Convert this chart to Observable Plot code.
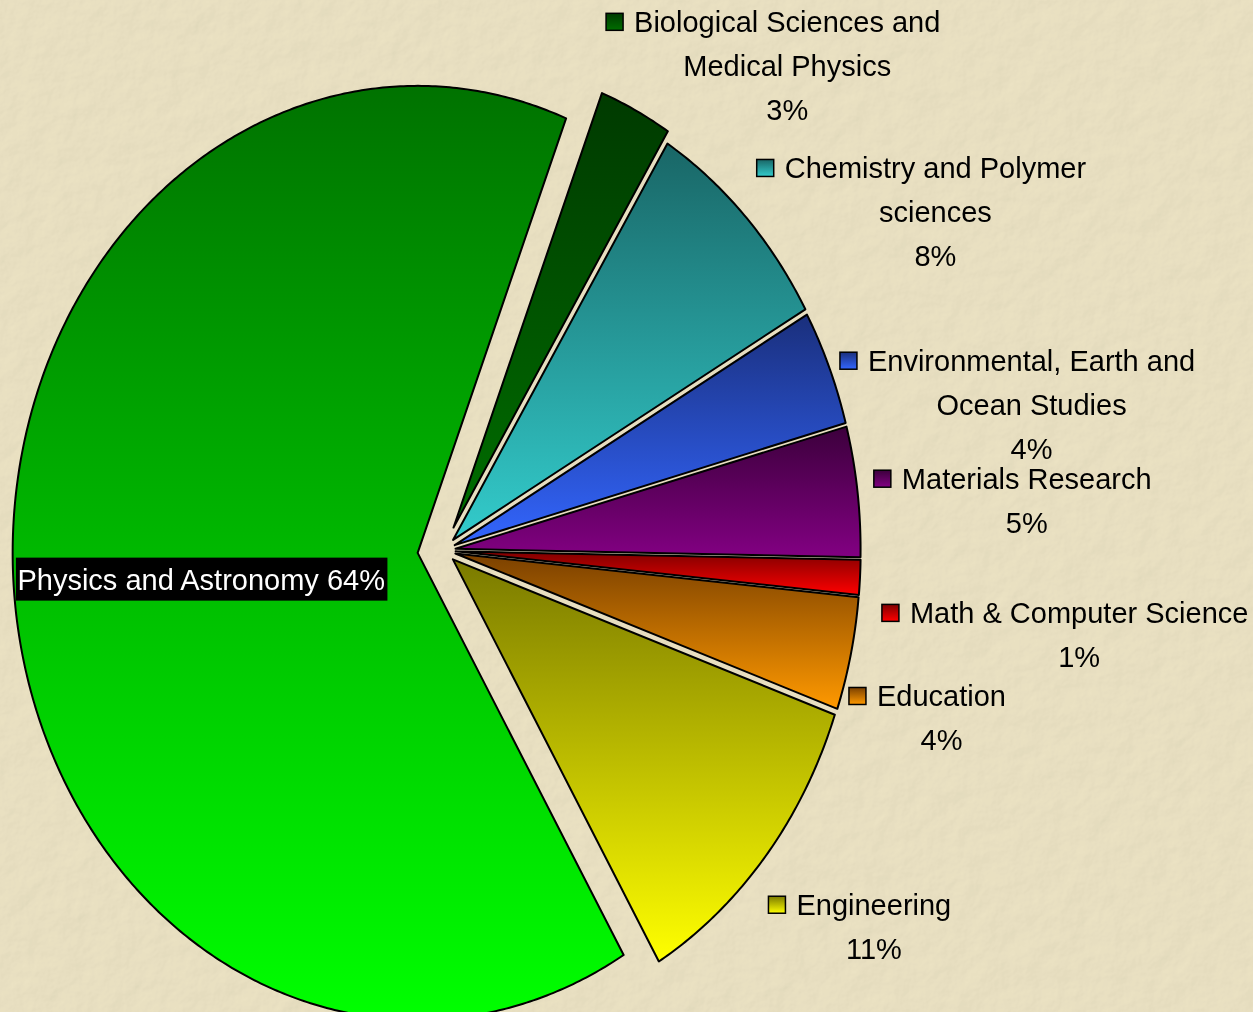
<!DOCTYPE html>
<html><head><meta charset="utf-8">
<script src="https://cdn.jsdelivr.net/npm/d3@7"></script>
<script src="https://cdn.jsdelivr.net/npm/@observablehq/plot@0.6"></script>
<style>
html,body{margin:0;padding:0;background:#e9e0c0;overflow:hidden;}
#chart svg{display:block;}
</style></head><body><div id="chart"></div>
<script>
// ---- data (clockwise from the first slice) ----
const categories = [
  "Biological Sciences and\nMedical Physics",
  "Chemistry and Polymer\nsciences",
  "Environmental, Earth and\nOcean Studies",
  "Materials Research",
  "Math & Computer Science",
  "Education",
  "Engineering",
  "Physics and Astronomy"
];
const values = [2.9, 7.9, 4.0, 4.5, 1.2, 3.9, 11.1, 64.4];
// gradient colours (top -> bottom)
const colorTop    = ["#003a00", "#196666", "#1a2f7c", "#3c003c", "#7e0000", "#7a4000", "#7a7a00", "#007200"];
const colorBottom = ["#006e00", "#33cccc", "#3366ff", "#820082", "#ff0000", "#ff9900", "#ffff00", "#00ff00"];

// ---- layout ----
const W = 1253, H = 1012;
const cx = 443, cy = 550, rx = 405, ry = 467;
const startAngle = 21.5;               // degrees clockwise from 12 o'clock
const explode = [0.055, 0.033, 0.03, 0.03, 0.03, 0.03, 0.03, 0.064];
// label placement (angle deg, radius in pie radii) – block centres
const labelPlace = [[39.3, 1.34], [59.2, 1.414], [77.9, 1.485], [85.8, 1.444], [96.6, 1.58], [106.3, 1.281], [127.2, 1.334], [263.7, 0.602]];
const FONT = "'Liberation Sans',Arial,sans-serif";
const FS = 29;

const rad = d => d * Math.PI / 180;
const total = d3.sum(values);
let acc = startAngle;
const slices = categories.map((name, i) => {
  const span = values[i] / total * 360;
  const s = {i, name, a0: acc, a1: acc + span, pct: Math.round(values[i] / total * 100)};
  acc += span;
  s.mid = (s.a0 + s.a1) / 2;
  return s;
});

const pts = [];
for (const s of slices) {
  const e = explode[s.i];
  const ox = e * Math.sin(rad(s.mid)), oy = e * Math.cos(rad(s.mid));
  pts.push({k: s.i, x: ox, y: oy});
  const n = Math.max(2, Math.ceil((s.a1 - s.a0) / 0.5));
  for (let j = 0; j <= n; j++) {
    const a = s.a0 + (s.a1 - s.a0) * j / n;
    pts.push({k: s.i, x: ox + Math.sin(rad(a)), y: oy + Math.cos(rad(a))});
  }
  pts.push({k: s.i, x: ox, y: oy});
}

const labels = slices.map(s => ({
  ...s,
  lx: labelPlace[s.i][1] * Math.sin(rad(labelPlace[s.i][0])),
  ly: labelPlace[s.i][1] * Math.cos(rad(labelPlace[s.i][0])),
  text: s.i === 7 ? `${s.name} ${s.pct}%` : `${s.name}\n${s.pct}%`
}));

const plot = Plot.plot({
  width: W, height: H, margin: 0,
  x: {domain: [-cx / rx, (W - cx) / rx], range: [0, W], axis: null},
  y: {domain: [(cy - H) / ry, cy / ry], range: [H, 0], axis: null},
  style: {background: "transparent", overflow: "visible"},
  marks: [
    ...slices.map(s => Plot.line(pts.filter(p => p.k === s.i), {
      x: "x", y: "y", fill: `url(#grad${s.i})`, stroke: "black", strokeWidth: 2, strokeLinejoin: "round"
    })),
    Plot.text(labels.filter(d => d.i !== 7), {
      x: "lx", y: "ly", text: "text", fontSize: FS, lineHeight: 44 / FS, dy: -4,
      fill: "black", fontFamily: FONT, className: "seglabel"
    }),
    Plot.text(labels.filter(d => d.i === 7), {
      x: "lx", y: "ly", text: "text", fontSize: FS, dy: -1,
      fill: "white", fontFamily: FONT, className: "mainlabel"
    })
  ]
});

document.getElementById("chart").appendChild(plot);
const svg = d3.select(plot);

// defs: gradients + paper texture
const defs = svg.insert("defs", ":first-child");
slices.forEach(s => {
  const g = defs.append("linearGradient").attr("id", `grad${s.i}`)
    .attr("x1", 0).attr("y1", 0).attr("x2", 0).attr("y2", 1);
  g.append("stop").attr("offset", "0%").attr("stop-color", colorTop[s.i]);
  g.append("stop").attr("offset", "100%").attr("stop-color", colorBottom[s.i]);
});
const f = defs.append("filter").attr("id", "paper").attr("x", 0).attr("y", 0).attr("width", "100%").attr("height", "100%");
f.append("feTurbulence").attr("type", "fractalNoise").attr("baseFrequency", 0.04).attr("numOctaves", 4).attr("seed", 7).attr("result", "n");
const lt = f.append("feDiffuseLighting").attr("in", "n").attr("lighting-color", "#ffffff").attr("surfaceScale", 2).attr("result", "l");
lt.append("feDistantLight").attr("azimuth", 45).attr("elevation", 55);

svg.insert("rect", "defs + *").attr("width", W).attr("height", H).attr("fill", "#ece3c4");
svg.insert("rect", "rect + *").attr("width", W).attr("height", H).attr("filter", "url(#paper)")
  .attr("opacity", 0.22).style("mix-blend-mode", "multiply");

// legend swatches beside the first line of each outside label
const box = plot.getBoundingClientRect();
const outside = labels.filter(d => d.i !== 7);
svg.selectAll(".seglabel text").each(function(d, j) {
  const tsp = this.querySelector("tspan") || this;
  const r = tsp.getBoundingClientRect();
  const left = r.left - box.left, cyl = (r.top + r.bottom) / 2 - box.top;
  const idx = outside[j].i;
  svg.append("rect").attr("x", left - 28).attr("y", cyl - 9).attr("width", 17).attr("height", 17)
    .attr("fill", `url(#grad${idx})`).attr("stroke", "black").attr("stroke-width", 1.5);
});

// black box behind the Physics label
svg.selectAll(".mainlabel text").each(function() {
  const r = this.getBoundingClientRect();
  const x0 = r.left - box.left - 2, w = r.width + 4, ym = (r.top + r.bottom) / 2 - box.top;
  d3.select(this.parentNode).insert("rect", "text").attr("x", x0).attr("y", ym - 21.5)
    .attr("width", w).attr("height", 43).attr("fill", "black");
});
</script>
</body></html>
